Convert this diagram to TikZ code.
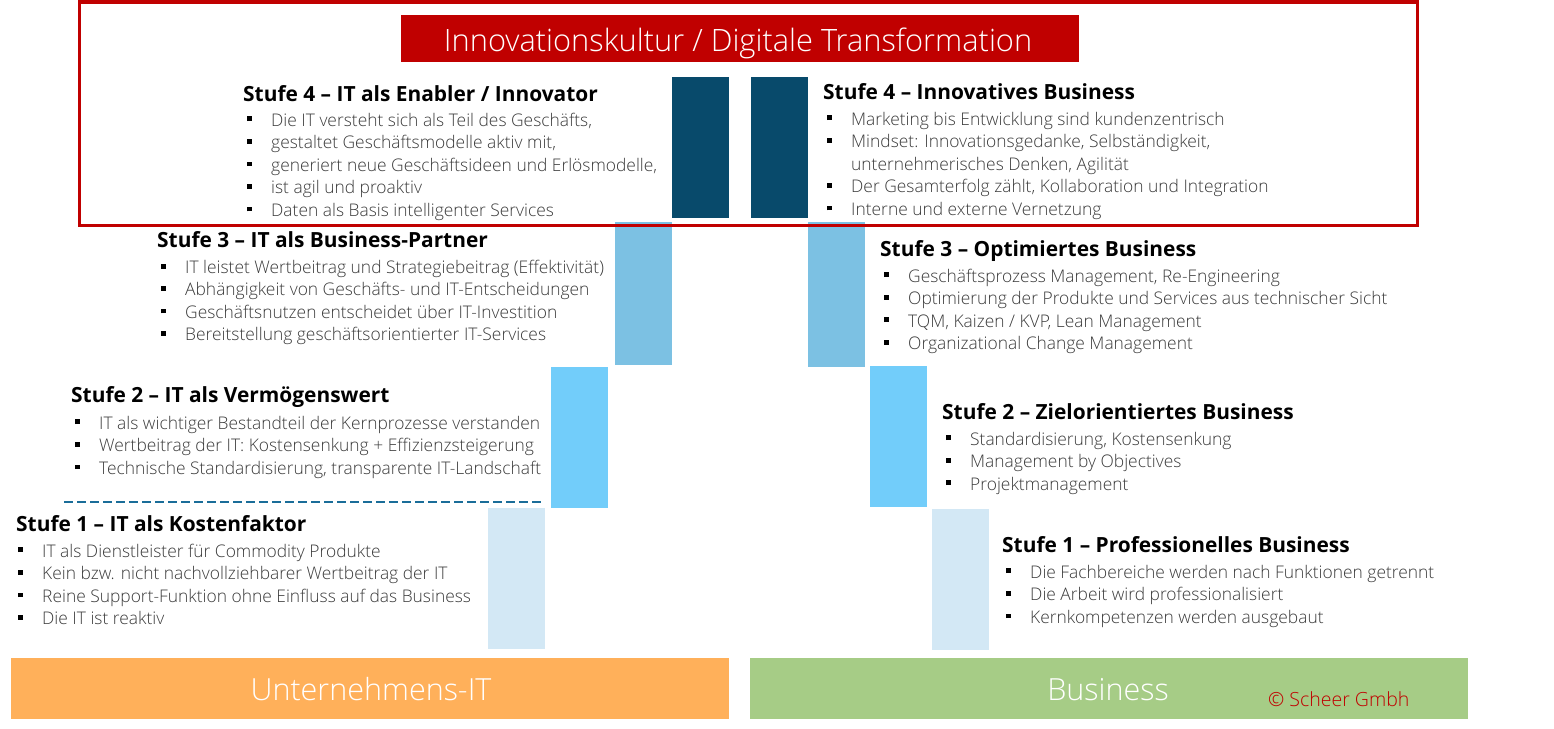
\documentclass[tikz,border=0pt]{standalone}
\usepackage{fontspec}
\setmainfont{Open Sans}
\IfFontExistsTF{Open Sans Light}
  {\newfontfamily\lightfont{Open Sans Light}}
  {\newfontfamily\lightfont{Open Sans}}
\IfFontExistsTF{Open Sans SemiBold}
  {\newfontfamily\semifont{Open Sans SemiBold}}
  {\newcommand\semifont{\bfseries}}
\definecolor{scheerred}{HTML}{C00000}
\definecolor{lvfour}{HTML}{084A6B}
\definecolor{lvthree}{HTML}{7CC1E3}
\definecolor{lvtwo}{HTML}{72CDFA}
\definecolor{lvone}{HTML}{D3E8F5}
\definecolor{itorange}{HTML}{FFB05A}
\definecolor{bizgreen}{HTML}{A6CC86}
\definecolor{dashblue}{HTML}{1A6D99}
\definecolor{bodygray}{HTML}{3A3A3A}
\newcommand\bul{\makebox[24pt][l]{\textcolor{black}{\raisebox{5pt}{\rule{4.7pt}{4.7pt}}}}}
\usetikzlibrary{positioning}
\begin{document}
\begin{tikzpicture}[x=1pt,y=-1pt,
  head/.style={anchor=base west,inner sep=0pt,font=\semifont\fontsize{20.9}{24}\selectfont},
  txt/.style={anchor=base west,inner sep=0pt,text=bodygray,font=\lightfont\fontsize{17.4}{20}\selectfont},
  band/.style={minimum width=718pt,minimum height=61pt,inner sep=0pt},
  bandtxt/.style={anchor=base,inner sep=0pt,text=white,font=\lightfont\fontsize{30.5}{36}\selectfont}]
\useasboundingbox (0,0) rectangle (1554,728);

% Stufen-Balken IT (links) und Business (rechts)
\fill[lvfour] (672,77) rectangle (729,218);
\fill[lvthree] (615,222) rectangle (672,365);
\fill[lvtwo] (551,367) rectangle (608,508);
\fill[lvone] (488,508) rectangle (545,649);
\fill[lvfour] (751,77) rectangle (808,218);
\fill[lvthree] (808,222) rectangle (865,367);
\fill[lvtwo] (870,366) rectangle (927,507);
\fill[lvone] (932,509) rectangle (989,650);

% Rahmen Stufe 4
\draw[scheerred,line width=3.5pt] (79.5,1.75) rectangle (1417.5,225.5);
\node[fill=scheerred,minimum width=678pt,minimum height=47pt,inner sep=0pt] (title) at (740,38.5) {};
\node[bandtxt,font=\lightfont\fontsize{30.8}{36}\selectfont] (titletxt) at (738,51.5) {Innovationskultur / Digitale Transformation};

% Unternehmens-IT
\node[head] (it4) at (243,101.5) {Stufe 4 – IT als Enabler / Innovator};
\foreach \t [count=\i] in {{Die IT versteht sich als Teil des Geschäfts,},{gestaltet Geschäftsmodelle aktiv mit,},{generiert neue Geschäftsideen und Erlösmodelle,},{ist agil und proaktiv},{Daten als Basis intelligenter Services}}
  \node[txt] (it4-\i) at (247,{126+22.6*(\i-1)}) {\bul\t};

\node[head] (it3) at (157,247.5) {Stufe 3 – IT als Business-Partner};
\foreach \t [count=\i] in {{IT leistet Wertbeitrag und Strategiebeitrag (Effektivität)},{Abhängigkeit von Geschäfts- und IT-Entscheidungen},{Geschäftsnutzen entscheidet über IT-Investition},{Bereitstellung geschäftsorientierter IT-Services}}
  \node[txt] (it3-\i) at (161,{273.5+22.4*(\i-1)}) {\bul\t};

\node[head] (it2) at (71,402.5) {Stufe 2 – IT als Vermögenswert};
\foreach \t [count=\i] in {{IT als wichtiger Bestandteil der Kernprozesse verstanden},{Wertbeitrag der IT: Kostensenkung + Effizienzsteigerung},{Technische Standardisierung, transparente IT-Landschaft}}
  \node[txt] (it2-\i) at (75,{429+22.6*(\i-1)}) {\bul\t};

\draw[dashblue,line width=1.2pt,dash pattern=on 9pt off 4pt] (64,502) -- (542,502);

\node[head] (it1) at (16,531.5) {Stufe 1 – IT als Kostenfaktor};
\foreach \t [count=\i] in {{IT als Dienstleister für Commodity Produkte},{Kein bzw. nicht nachvollziehbarer Wertbeitrag der IT},{Reine Support-Funktion ohne Einfluss auf das Business},{Die IT ist reaktiv}}
  \node[txt] (it1-\i) at (18,{557+22.6*(\i-1)}) {\bul\t};

% Business
\node[head] (biz4) at (823,99.5) {Stufe 4 – Innovatives Business};
\foreach \t [count=\i] in {{\bul Marketing bis Entwicklung sind kundenzentrisch},{\bul Mindset: Innovationsgedanke, Selbständigkeit,},{\hspace*{24pt}unternehmerisches Denken, Agilität},{\bul Der Gesamterfolg zählt, Kollaboration und Integration},{\bul Interne und externe Vernetzung}}
  \node[txt] (biz4-\i) at (827,{125+22.6*(\i-1)}) {\t};

\node[head] (biz3) at (880,256.5) {Stufe 3 – Optimiertes Business};
\foreach \t [count=\i] in {{Geschäftsprozess Management, Re-Engineering},{Optimierung der Produkte und Services aus technischer Sicht},{TQM, Kaizen / KVP, Lean Management},{Organizational Change Management}}
  \node[txt] (biz3-\i) at (884,{282+22.5*(\i-1)}) {\bul\t};

\node[head] (biz2) at (942,419.5) {Stufe 2 – Zielorientiertes Business};
\foreach \t [count=\i] in {{Standardisierung, Kostensenkung},{Management by Objectives},{Projektmanagement}}
  \node[txt] (biz2-\i) at (946,{445+22.5*(\i-1)}) {\bul\t};

\node[head] (biz1) at (1002,552.5) {Stufe 1 – Professionelles Business};
\foreach \t [count=\i] in {{Die Fachbereiche werden nach Funktionen getrennt},{Die Arbeit wird professionalisiert},{Kernkompetenzen werden ausgebaut}}
  \node[txt] (biz1-\i) at (1006,{578+22.6*(\i-1)}) {\bul\t};

% Fuss-Baender
\node[band,fill=itorange] (itband) at (370,688.5) {};
\node[bandtxt] (ittxt) at (371,700.5) {Unternehmens-IT};
\node[band,fill=bizgreen] (bizband) at (1108.5,688.5) {};
\node[bandtxt] (biztxt) at (1108,700.5) {Business};
\node[anchor=base west,inner sep=0pt,text=scheerred,font=\lightfont\fontsize{19.5}{24}\selectfont] (copy) at (1268,706.5) {© Scheer Gmbh};
\end{tikzpicture}
\end{document}
